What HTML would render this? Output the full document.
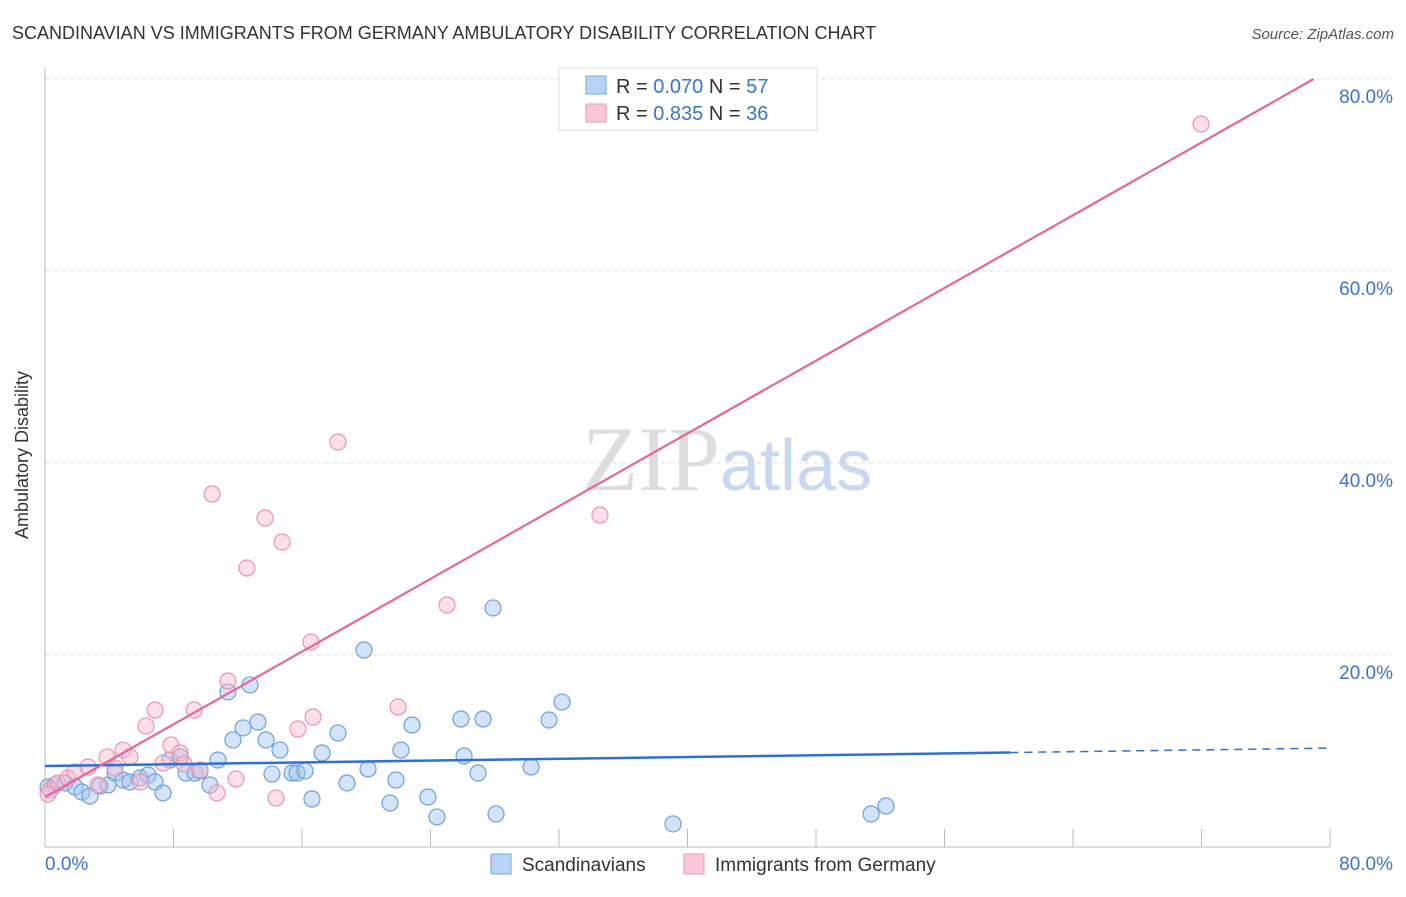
<!DOCTYPE html>
<html><head><meta charset="utf-8"><style>
body{margin:0;background:#fff;font-family:"Liberation Sans",sans-serif}
</style></head><body>
<svg width="1406" height="892" viewBox="0 0 1406 892" xmlns="http://www.w3.org/2000/svg">
<text x="12" y="39" font-size="18" fill="#333">SCANDINAVIAN VS IMMIGRANTS FROM GERMANY AMBULATORY DISABILITY CORRELATION CHART</text>
<text x="1394" y="39" font-size="15" fill="#555" font-style="italic" text-anchor="end">Source: ZipAtlas.com</text>
<g id="grid"></g>
<text x="720" y="490" font-size="92" fill="#ddd" font-family="Liberation Serif" text-anchor="end">ZIP</text>
<text x="720" y="490" font-size="72" fill="#c8d8f0">atlas</text>
<text x="28" y="455" font-size="18" fill="#333" transform="rotate(-90 28 455)" text-anchor="middle">Ambulatory Disability</text>
<g id="marks"></g>
<g>
<rect x="559" y="68" width="258" height="62" fill="#fff" stroke="#ddd"/>
<rect x="586" y="76" width="20" height="18" fill="#b8d4f4" stroke="#7aa8e0"/>
<rect x="586" y="104" width="20" height="18" fill="#f8c8d8" stroke="#ea9ab4"/>
<text x="616" y="93" font-size="20" fill="#333">R = <tspan fill="#3a74d0">0.070</tspan>   N = <tspan fill="#3a74d0">57</tspan></text>
<text x="616" y="120" font-size="20" fill="#333">R =  <tspan fill="#3a74d0">0.835</tspan>   N = <tspan fill="#3a74d0">36</tspan></text>
</g>
<g>
<rect x="491" y="854" width="20" height="20" fill="#b8d4f4" stroke="#7aa8e0"/>
<text x="522" y="871" font-size="19" fill="#333">Scandinavians</text>
<rect x="684" y="854" width="20" height="20" fill="#f8c8d8" stroke="#ea9ab4"/>
<text x="715" y="871" font-size="19" fill="#333">Immigrants from Germany</text>
</g>
</svg>
<script>
const blueX=[0.62,1.25,1.87,2.30,2.80,3.42,3.92,4.36,4.86,5.29,5.92,6.41,6.85,7.35,7.78,8.41,8.78,9.34,9.65,10.27,10.77,11.39,11.70,12.33,12.76,13.26,13.76,14.13,14.63,15.38,15.69,16.19,16.62,17.25,18.24,18.80,19.86,20.11,21.48,21.85,22.16,22.85,23.84,24.40,25.90,26.09,26.96,27.27,27.89,28.08,30.26,31.38,32.19,39.10,51.43,52.36,0.19];
const blueY=[6.46,6.67,6.25,5.73,5.31,6.35,6.46,7.71,6.98,6.77,7.19,7.50,6.77,5.63,9.06,9.38,7.71,7.71,7.92,6.46,9.06,16.15,11.15,12.40,16.88,13.02,11.15,7.60,10.10,7.71,7.71,7.92,5.00,9.79,11.88,6.67,20.52,8.13,4.58,6.98,10.10,12.71,5.21,3.13,13.33,9.48,7.71,13.33,24.90,3.44,8.33,13.23,15.10,2.40,3.44,4.27,6.25];
const pinkX=[0.31,0.81,1.43,1.87,2.68,3.30,3.86,4.36,4.86,5.29,5.92,6.29,6.85,7.35,7.84,8.41,8.66,9.28,9.65,10.40,10.71,11.39,11.89,12.57,13.70,14.38,14.76,15.75,16.56,16.69,18.24,21.98,25.03,34.55,71.97,0.19];
const pinkY=[5.94,6.67,7.19,7.81,8.33,6.46,9.38,8.23,10.10,9.38,6.77,12.60,14.27,8.75,10.63,9.79,8.65,14.27,8.02,36.77,5.63,17.29,7.08,29.06,34.27,5.10,31.77,12.29,21.35,13.54,42.19,14.58,25.21,34.58,75.31,5.52];
const yTicks=[20,40,60,80];
const yTickLabels=["20.0%","40.0%","60.0%","80.0%"];
const xTicks=[0,8,16,24,32,40,48,56,64,72,80];
const blueTrend=[8.44,10.3], blueSolidEnd=60.1;
const pinkTrend=[5.2,80/78.95*0+5.2+0.947*80];
const NS="http://www.w3.org/2000/svg";
const sx=v=>45+v/80*1285, sy=v=>847-v/20*192;
function mk(p,tag,a){const e=document.createElementNS(NS,tag);for(const k in a)e.setAttribute(k,a[k]);p.appendChild(e);return e;}
const grid=document.getElementById('grid'), marks=document.getElementById('marks'), svg=grid.parentNode;
yTicks.forEach((t,i)=>{
 const l=mk(grid,'line',{x1:45,x2:1394,y1:sy(t),y2:sy(t),stroke:'#ddd','stroke-dasharray':'4,4'});
 
 
 const tx=mk(grid,'text',{x:1393,y:sy(t)+24,'font-size':19,fill:'#3a74d0','text-anchor':'end'});
 tx.textContent=yTickLabels[i];
 
 
});
const ax=mk(grid,'line',{x1:45,x2:1330,y1:847,y2:847,stroke:'#bbb'});


const ay=mk(grid,'line',{x1:45,x2:45,y1:68,y2:847,stroke:'#bbb'});


xTicks.forEach(t=>{const l=mk(grid,'line',{x1:sx(t),x2:sx(t),y1:829,y2:847,stroke:'#bbb'});
 
 });
let t0=mk(grid,'text',{x:45,y:870,'font-size':19,fill:'#3a74d0'});t0.textContent='0.0%';


let t1=mk(grid,'text',{x:1393,y:870,'font-size':19,fill:'#3a74d0','text-anchor':'end'});t1.textContent='80.0%';


blueX.forEach((x,i)=>{const c=mk(marks,'circle',{cx:sx(x),cy:sy(blueY[i]),r:8,fill:'rgba(160,196,240,0.45)',stroke:'#6c9fdc','stroke-width':1.2});
 
 });
pinkX.forEach((x,i)=>{const c=mk(marks,'circle',{cx:sx(x),cy:sy(pinkY[i]),r:8,fill:'rgba(246,186,206,0.45)',stroke:'#eb94b2','stroke-width':1.2});
 
 });
const bAt=x=>blueTrend[0]+(blueTrend[1]-blueTrend[0])*x/80;
let bl=mk(marks,'line',{x1:sx(0),y1:sy(bAt(0)),x2:sx(blueSolidEnd),y2:sy(bAt(blueSolidEnd)),stroke:'#2f6fd6','stroke-width':2.5});


let bd=mk(marks,'line',{x1:sx(blueSolidEnd),y1:sy(bAt(blueSolidEnd)),x2:sx(80),y2:sy(bAt(80)),stroke:'#2f6fd6','stroke-width':1.5,'stroke-dasharray':'8,6'});


const pSlope=(pinkTrend[1]-pinkTrend[0])/80, pEnd=(80-pinkTrend[0])/pSlope;
let pl=mk(marks,'line',{x1:sx(0),y1:sy(pinkTrend[0]),x2:sx(pEnd),y2:sy(80),stroke:'#e8649a','stroke-width':2.2});


</script>
</body></html>
